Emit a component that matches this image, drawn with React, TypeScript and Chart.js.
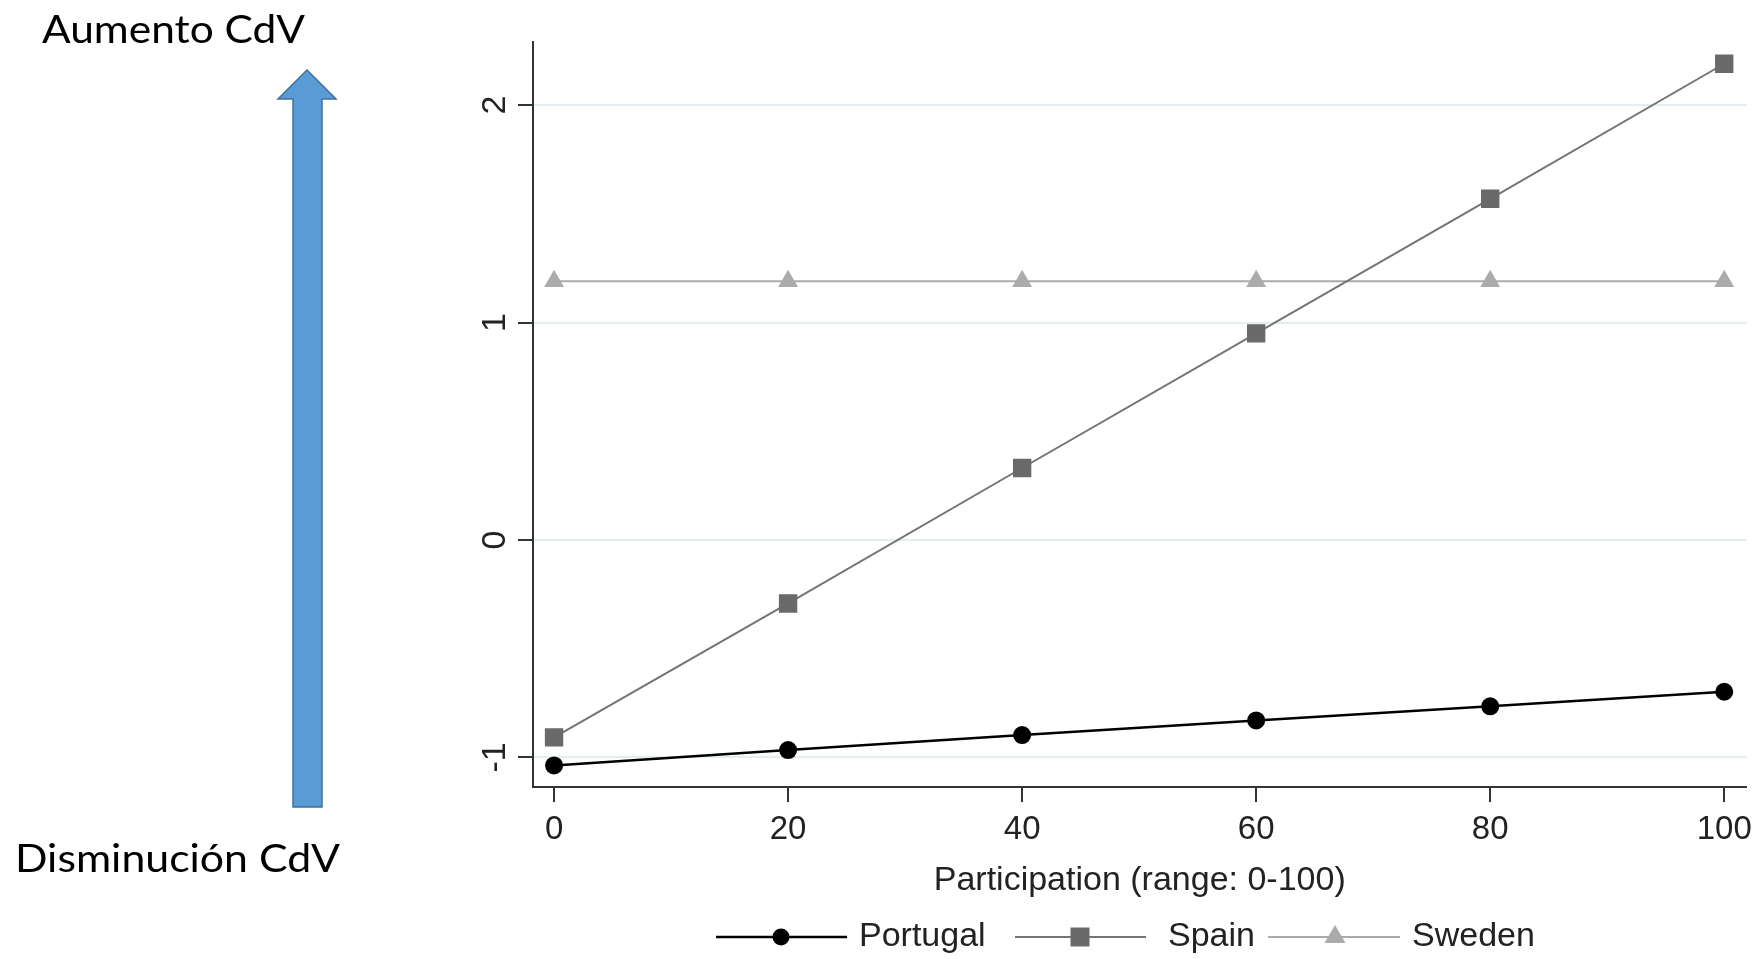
import React, { useEffect, useRef } from 'react';
import { Chart, registerables } from 'chart.js';

Chart.register(...registerables);

const PARTICIPATION = [0, 20, 40, 60, 80, 100];
const PORTUGAL = [-1.037, -0.966, -0.897, -0.830, -0.765, -0.698];
const SPAIN = [-0.908, -0.292, 0.331, 0.950, 1.569, 2.190];
const SWEDEN = [1.19, 1.19, 1.19, 1.19, 1.19, 1.19];
const X_TICKS = [0, 20, 40, 60, 80, 100];
const Y_TICKS = [-1, 0, 1, 2];
const SERIES_NAMES = ['Portugal', 'Spain', 'Sweden'];
const X_TITLE = 'Participation (range: 0-100)';
const TOP_LABEL = 'Aumento CdV';
const BOTTOM_LABEL = 'Disminución CdV';

const FONT = "'Liberation Sans', Arial, Helvetica, sans-serif";
const SIDE_FONT = "Lato, 'Open Sans', sans-serif";
const COLORS = ['#000000', '#747474', '#ababab'];
const MARKER_COLORS = ['#000000', '#6a6a6a', '#ababab'];

function drawStretched(ctx: CanvasRenderingContext2D, text: string, x: number, y: number, width: number) {
  const w = ctx.measureText(text).width;
  ctx.save();
  ctx.translate(x, y);
  ctx.scale(width / w, 1);
  ctx.fillText(text, 0, 0);
  ctx.restore();
}

const extrasPlugin = {
  id: 'extras',
  afterDraw(chart: any) {
    const ctx = chart.ctx as CanvasRenderingContext2D;
    const y = chart.scales.y;
    ctx.save();
    // rotated y tick labels
    ctx.fillStyle = '#222';
    ctx.font = `34px ${FONT}`;
    ctx.textAlign = 'center';
    ctx.textBaseline = 'alphabetic';
    Y_TICKS.forEach((v) => {
      const py = y.getPixelForValue(v);
      ctx.save();
      ctx.translate(505, py);
      ctx.rotate(-Math.PI / 2);
      ctx.fillText(String(v), 0, 0);
      ctx.restore();
    });

    // side labels
    ctx.fillStyle = '#000';
    ctx.font = `39px ${SIDE_FONT}`;
    ctx.textAlign = 'left';
    ctx.textBaseline = 'alphabetic';
    drawStretched(ctx, TOP_LABEL, 42, 43, 263);
    drawStretched(ctx, BOTTOM_LABEL, 15, 872, 325);

    // arrow
    ctx.beginPath();
    ctx.moveTo(307, 70);
    ctx.lineTo(336, 99);
    ctx.lineTo(322, 99);
    ctx.lineTo(322, 807);
    ctx.lineTo(293, 807);
    ctx.lineTo(293, 99);
    ctx.lineTo(278, 99);
    ctx.closePath();
    ctx.fillStyle = '#5b9bd5';
    ctx.fill();
    ctx.strokeStyle = '#41719c';
    ctx.lineWidth = 1.5;
    ctx.stroke();

    // legend
    const ly = 937;
    const items = [
      { x0: 716, x1: 847, mx: 781, tx: 859 },
      { x0: 1015, x1: 1146, mx: 1080, tx: 1168 },
      { x0: 1268, x1: 1400, mx: 1335, tx: 1412 },
    ];
    items.forEach((it, i) => {
      ctx.beginPath();
      ctx.moveTo(it.x0, ly);
      ctx.lineTo(it.x1, ly);
      ctx.strokeStyle = COLORS[i];
      ctx.lineWidth = i === 0 ? 2.5 : 2;
      ctx.stroke();
      ctx.fillStyle = MARKER_COLORS[i];
      ctx.beginPath();
      if (i === 0) {
        ctx.arc(it.mx, ly, 8.5, 0, Math.PI * 2);
      } else if (i === 1) {
        ctx.rect(it.mx - 9.5, ly - 9.5, 19, 19);
      } else {
        ctx.moveTo(it.mx, ly - 12);
        ctx.lineTo(it.mx + 10.5, ly + 6);
        ctx.lineTo(it.mx - 10.5, ly + 6);
        ctx.closePath();
      }
      ctx.fill();
      ctx.fillStyle = '#222';
      ctx.font = `34px ${FONT}`;
      ctx.textAlign = 'left';
      ctx.textBaseline = 'middle';
      ctx.fillText(SERIES_NAMES[i], it.tx, ly);
    });
    ctx.restore();
  },
};

export default function App() {
  const canvasRef = useRef<HTMLCanvasElement | null>(null);

  useEffect(() => {
    if (!canvasRef.current) return;
    const series = [PORTUGAL, SPAIN, SWEDEN];
    const styles = ['circle', 'rect', 'triangle'];
    const radii = [9, 13, 11.5];
    const widths = [2.5, 2, 2];
    const chart = new Chart(canvasRef.current, {
      type: 'line',
      data: {
        datasets: series.map((vals, i) => ({
          label: SERIES_NAMES[i],
          data: PARTICIPATION.map((x, j) => ({ x, y: vals[j] })),
          borderColor: COLORS[i],
          backgroundColor: MARKER_COLORS[i],
          pointBackgroundColor: MARKER_COLORS[i],
          pointBorderWidth: 0,
          borderWidth: widths[i],
          pointStyle: styles[i] as any,
          pointRadius: radii[i],
          tension: 0,
          fill: false,
        })),
      },
      options: {
        animation: false,
        responsive: true,
        maintainAspectRatio: false,
        layout: { padding: { left: 300, top: 42, right: 12, bottom: 0 } },
        plugins: { legend: { display: false }, tooltip: { enabled: false } },
        scales: {
          x: {
            type: 'linear',
            min: -1.8,
            max: 101.9,
            afterBuildTicks: (s: any) => {
              s.ticks = X_TICKS.map((v) => ({ value: v }));
            },
            afterFit: (s: any) => {
              s.height = 172;
            },
            grid: {
              drawOnChartArea: false,
              drawTicks: true,
              tickLength: 15,
              tickColor: '#333',
              lineWidth: 2,
            },
            border: { display: true, color: '#333', width: 2 },
            ticks: {
              font: { family: FONT, size: 33 },
              color: '#222',
              padding: 8,
              maxRotation: 0,
              minRotation: 0,
              autoSkip: false,
            },
            title: {
              display: true,
              text: X_TITLE,
              font: { family: FONT, size: 34 },
              color: '#222',
              padding: { top: 0, bottom: 58 },
            },
          },
          y: {
            type: 'linear',
            min: -1.136,
            max: 2.29,
            afterBuildTicks: (s: any) => {
              s.ticks = Y_TICKS.map((v) => ({ value: v }));
            },
            afterFit: (s: any) => {
              s.width = 233;
            },
            grid: {
              color: '#e3eef0',
              lineWidth: 2,
              drawTicks: true,
              tickLength: 15,
              tickColor: '#333',
            },
            border: { display: true, color: '#333', width: 2 },
            ticks: { display: false },
          },
        },
      },
      plugins: [extrasPlugin],
    });
    return () => chart.destroy();
  }, []);

  return (
    <div
      style={{
        position: 'fixed',
        left: 0,
        top: 0,
        width: 1760,
        height: 959,
        background: '#ffffff',
      }}
    >
      <canvas ref={canvasRef} />
    </div>
  );
}
